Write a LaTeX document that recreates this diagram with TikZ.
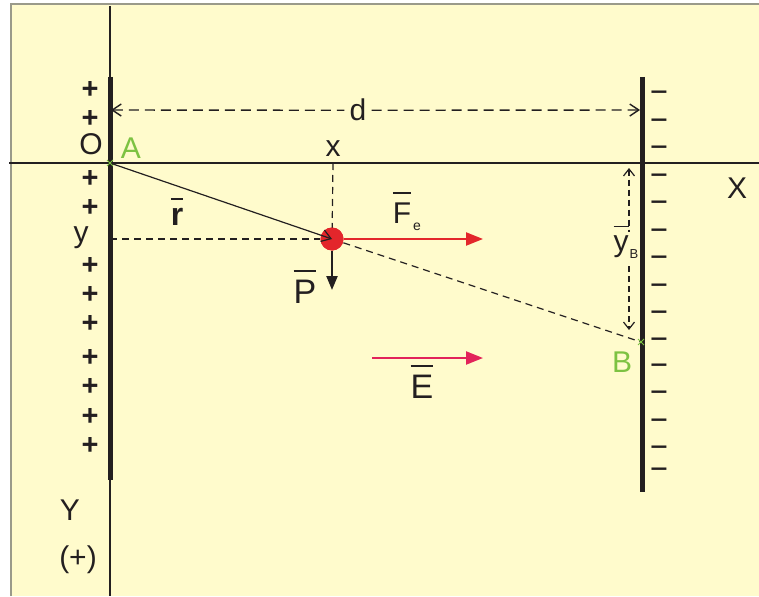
\documentclass[tikz,border=0pt]{standalone}
\usepackage{fontspec}
\setmainfont{Liberation Sans}
\newfontfamily\minusfont[FakeStretch=1.35]{Liberation Sans Bold}
\usetikzlibrary{arrows.meta,calc}
\definecolor{bg}{HTML}{FFFBCC}
\definecolor{grn}{HTML}{7DC242}
\definecolor{fred}{HTML}{E3262B}
\definecolor{ered}{HTML}{E2235A}
\definecolor{ink}{HTML}{231F20}
\definecolor{frame}{HTML}{9A9A8A}
\newcommand\ovbar[2][2pt]{\leavevmode\setbox0\hbox{#2}\vbox{\hrule height #1 width \wd0\kern 8pt\box0}}
\tikzset{
  mybarb/.tip={Straight Barb[length=9pt,width=12pt]},
  smallbarb/.tip={Straight Barb[length=7pt,width=11pt]}
}
\begin{document}
\begin{tikzpicture}[x=1pt,y=-1pt,
  lbl/.style={inner sep=0pt,anchor=base,text=ink,font=\fontsize{30}{36}\selectfont},
  sign/.style={inner sep=0pt,anchor=base,text=ink,text height=12pt,text depth=0pt,
     font=\fontsize{29}{34}\selectfont\bfseries},
  minussign/.style={inner sep=0pt,anchor=base,text=ink,text height=9pt,text depth=0pt,
     font=\fontsize{22}{26}\minusfont},
  axisline/.style={draw=ink,line width=1.1pt},
  plate/.style={draw=ink,line width=5pt},
  guide/.style={draw=ink,line width=1.2pt,dash pattern=on 7pt off 5pt},
  dimline/.style={draw=ink,line width=1.4pt,dash pattern=on 10pt off 6pt},
  forcearrow/.style={line width=2.2pt,-{Triangle[length=17pt,width=13pt]}},
  ptmark/.style={draw=grn,line width=1pt}
]
\useasboundingbox (0,0) rectangle (759,596);
\fill[white] (0,0) rectangle (759,596);
\fill[bg] (11,4) rectangle (759,596);
\draw[frame,line width=1.2pt] (11,596) -- (11,4) -- (759,4);

% key coordinates
\coordinate (A) at (110,163);
\coordinate (B) at (641,342);
\coordinate (axT) at (110,6);
\coordinate (axB) at (110,596);
\coordinate (axL) at (9,163);
\coordinate (axR) at (759,163);
\coordinate (p1t) at (110,77);
\coordinate (p1b) at (110,480);
\coordinate (p2t) at (642,77);
\coordinate (p2b) at (642,492);
\coordinate (dL) at (111,110);
\coordinate (dR) at (640,110);
\coordinate (ybT) at (629,168);
\coordinate (ybM1) at (629,232);
\coordinate (ybM2) at (629,266);
\coordinate (ybB) at (629,330);
\coordinate (xA) at (333,163);
\coordinate (yA) at (110,239);
\coordinate (FeEnd) at (483,239);
\coordinate (PEnd) at (332,290);
\coordinate (EStart) at (372,358);
\coordinate (EEnd) at (483,358);

% axes
\draw[axisline] (axT) -- (axB);
\draw[axisline] (axL) -- (axR);

% plates
\draw[plate] (p1t) -- (p1b);
\draw[plate] (p2t) -- (p2b);

% charges
\foreach \yy in {90,119,178,207,265,294,323,357,386,416,445}
  \node[sign] at (90,\yy+9) {+};
\foreach \yy in {93,121,148,176,203,231,258,286,313,340,366,393,421,448,470}
  \node[minussign] at (659,\yy+6.5) {−};

% charge particle
\node[circle,fill=fred,minimum size=23pt,inner sep=0pt] (Q) at (332,239) {};

% guides
\draw[guide] (xA) -- (Q.center);
\draw[guide] (yA) -- (Q.west);
\draw[guide] (Q.center) -- (B);
\fill[fred] (Q) circle (11.5pt);

% d dimension
\node[lbl,fill=bg,inner sep=5pt] (dlab) at (358,121) {d};
\draw[dimline,{mybarb}-] (dL) -- (dlab.west);
\draw[dimline,-{mybarb}] (dlab.east) -- (dR);

% yB dimension
\draw[dimline,line width=1.2pt,dash pattern=on 6pt off 4pt,{smallbarb}-] (ybT) -- (ybM1);
\draw[dimline,line width=1.2pt,dash pattern=on 6pt off 4pt,-{smallbarb}] (ybM2) -- (ybB);
\node[lbl] (yBl) at (621,251) {\ovbar[1.6pt]{y}};
\node[lbl,font=\fontsize{13}{15}\selectfont] at (634,258) {B};

% position vector r
\draw[draw=ink,line width=1.2pt,-{mybarb}] (A) -- (Q.center);

% forces and field
\draw[forcearrow,draw=fred,fill=fred] (Q.east) -- (FeEnd);
\draw[draw=ink,fill=ink,line width=2.2pt,-{Triangle[length=14pt,width=11pt]}] (Q.south) -- (PEnd);
\draw[forcearrow,draw=ered,fill=ered] (EStart) -- (EEnd);

% point marks
\draw[ptmark] ($(A)+(-3,-3)$) -- ($(A)+(3,3)$) ($(A)+(-3,3)$) -- ($(A)+(3,-3)$);
\draw[ptmark] ($(B)+(-3,-3)$) -- ($(B)+(3,3)$) ($(B)+(-3,3)$) -- ($(B)+(3,-3)$);

% labels
\node[lbl] at (91,155) {O};
\node[lbl,text=grn] at (131,158) {A};
\node[lbl] at (333,157) {x};
\node[lbl] at (737,198) {X};
\node[lbl] at (81,242) {y};
\node[lbl,font=\fontsize{32}{38}\selectfont\bfseries] at (177,225) {\ovbar[1.8pt]{r}};
\node[lbl] at (402,223) {\ovbar{F}};
\node[lbl,font=\fontsize{14}{16}\selectfont] at (417,230) {e};
\node[lbl,font=\fontsize{34}{40}\selectfont] at (305,303) {\ovbar{P}};
\node[lbl,font=\fontsize{34}{40}\selectfont] at (422,398) {\ovbar{E}};
\node[lbl,text=grn] at (622,372) {B};
\node[lbl] at (70,520) {Y};
\node[lbl] at (78,567) {(+)};
\end{tikzpicture}
\end{document}
